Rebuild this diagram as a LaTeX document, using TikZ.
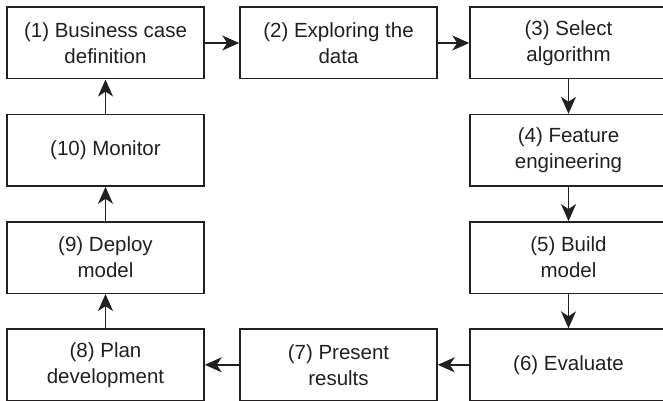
\documentclass[tikz,border=0pt]{standalone}
\usepackage{fontspec}
\setmainfont{Liberation Sans}
\usetikzlibrary{arrows.meta}
\definecolor{ink}{HTML}{231F20}
\begin{document}
\begin{tikzpicture}[x=1pt,y=-1pt,
  stage/.style={draw=ink, line width=1.5pt, rectangle, minimum width=197pt,
    minimum height=71.5pt, inner sep=0pt, align=center, text=ink,
    font=\fontsize{20.5}{26}\selectfont},
  flow/.style={draw=ink, line width=1.6pt,
    -{Stealth[length=17pt,width=15pt,inset=5pt]}}]
\useasboundingbox (0,0) rectangle (663,401);
% top row
\node[stage] (s1)  at (105.5,43)    {(1) Business case\\definition};
\node[stage] (s2)  at (338.5,43)    {(2) Exploring the\\data};
\node[stage] (s3)  at (568.5,43)    {(3) Select\\algorithm};
% right column
\node[stage] (s4)  at (568.5,150.3) {(4) Feature\\engineering};
\node[stage] (s5)  at (568.5,257.6) {(5) Build\\model};
% bottom row
\node[stage] (s6)  at (568.5,364.8) {(6) Evaluate};
\node[stage] (s7)  at (338.5,364.8) {(7) Present\\results};
\node[stage] (s8)  at (105.5,364.8) {(8) Plan\\development};
% left column
\node[stage] (s9)  at (105.5,257.6) {(9) Deploy\\model};
\node[stage] (s10) at (105.5,150.3) {(10) Monitor};
% cycle
\draw[flow] (s1) -- (s2);
\draw[flow] (s2) -- (s3);
\draw[flow] (s3) -- (s4);
\draw[flow] (s4) -- (s5);
\draw[flow] (s5) -- (s6);
\draw[flow] (s6) -- (s7);
\draw[flow] (s7) -- (s8);
\draw[flow] (s8) -- (s9);
\draw[flow] (s9) -- (s10);
\draw[flow] (s10) -- (s1);
\end{tikzpicture}
\end{document}
